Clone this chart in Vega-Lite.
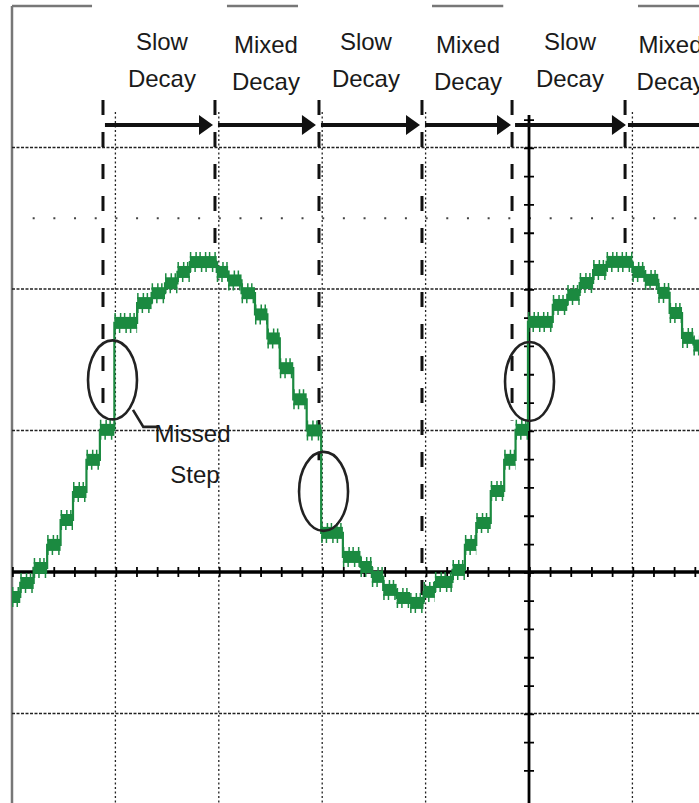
{
  "$schema": "https://vega.github.io/schema/vega-lite/v6.json",
  "width": 699,
  "height": 803,
  "autosize": "none",
  "padding": 0,
  "background": "white",
  "config": {"view": {"stroke": null}},
  "datasets": {
    "border": [
      {"x": 0, "x2": 77.4, "y": 400},
      {"x": 207.9, "x2": 276.6, "y": 400},
      {"x": 406.2, "x2": 475.1, "y": 400},
      {"x": 605.4, "x2": 680, "y": 400}
    ],
    "leftborder": [{"x": 0, "y": 400, "y2": -170}],
    "vgrid": [
      {"x": 100, "y": 325, "y2": -170},
      {"x": 200, "y": 325, "y2": -170},
      {"x": 300, "y": 325, "y2": -170},
      {"x": 400, "y": 325, "y2": -170},
      {"x": 600, "y": 325, "y2": -170}
    ],
    "hgrid": [
      {"y": 300, "x": 0, "x2": 680},
      {"y": 200, "x": 0, "x2": 680},
      {"y": 100, "x": 0, "x2": 680},
      {"y": -100, "x": 0, "x2": 680}
    ],
    "sparse": [{"y": 250, "x": 20, "x2": 680}],
    "haxis": [{"x": 0, "x2": 680, "y": 0}],
    "vaxis": [{"x": 500, "y": 323, "y2": -170}],
    "vticks": [{"x": 500, "y": 320, "y2": -160}],
    "dashes": [
      {"x": 88, "y": 333.6, "y2": 118},
      {"x": 196.3, "y": 333.6, "y2": 219},
      {"x": 296.9, "y": 333.6, "y2": 79},
      {"x": 396.5, "y": 333.6, "y2": -20},
      {"x": 483.6, "y": 333.6, "y2": 107},
      {"x": 592.9, "y": 333.6, "y2": 219}
    ],
    "steps": [
      {"x": 0, "x2": 8, "y": -17.7},
      {"x": 8, "x2": 21, "y": -7.8},
      {"x": 21, "x2": 34, "y": 2.8},
      {"x": 34, "x2": 47, "y": 19.1},
      {"x": 47, "x2": 59, "y": 36.7},
      {"x": 59, "x2": 72, "y": 56.5},
      {"x": 72, "x2": 85, "y": 79.2},
      {"x": 85, "x2": 99, "y": 100.4},
      {"x": 99, "x2": 121, "y": 176},
      {"x": 121, "x2": 135, "y": 190},
      {"x": 135, "x2": 148, "y": 197},
      {"x": 148, "x2": 160, "y": 204},
      {"x": 160, "x2": 172, "y": 212},
      {"x": 172, "x2": 198, "y": 219},
      {"x": 198, "x2": 209, "y": 212},
      {"x": 209, "x2": 222, "y": 206},
      {"x": 222, "x2": 235, "y": 197},
      {"x": 235, "x2": 247, "y": 182},
      {"x": 247, "x2": 259, "y": 165},
      {"x": 259, "x2": 272, "y": 144},
      {"x": 272, "x2": 285, "y": 122},
      {"x": 285, "x2": 299, "y": 100},
      {"x": 299, "x2": 320, "y": 27.6},
      {"x": 320, "x2": 337, "y": 10.6},
      {"x": 337, "x2": 348, "y": 3.5},
      {"x": 348, "x2": 359, "y": -3.5},
      {"x": 359, "x2": 372, "y": -12.7},
      {"x": 372, "x2": 385, "y": -18.4},
      {"x": 385, "x2": 398, "y": -21.9},
      {"x": 398, "x2": 409, "y": -14.1},
      {"x": 409, "x2": 426, "y": -7.1},
      {"x": 426, "x2": 438, "y": 1.4},
      {"x": 438, "x2": 449, "y": 19.1},
      {"x": 449, "x2": 463, "y": 34.6},
      {"x": 463, "x2": 476, "y": 57.2},
      {"x": 476, "x2": 487, "y": 79.2},
      {"x": 487, "x2": 499, "y": 100.4},
      {"x": 499, "x2": 523, "y": 176.7},
      {"x": 523, "x2": 537, "y": 188.7},
      {"x": 537, "x2": 549, "y": 195.8},
      {"x": 549, "x2": 562, "y": 204.2},
      {"x": 562, "x2": 575, "y": 213.4},
      {"x": 575, "x2": 600, "y": 219.1},
      {"x": 600, "x2": 612, "y": 212},
      {"x": 612, "x2": 625, "y": 206.4},
      {"x": 625, "x2": 636, "y": 197.2},
      {"x": 636, "x2": 648, "y": 183},
      {"x": 648, "x2": 659, "y": 165.4},
      {"x": 659, "x2": 672, "y": 160}
    ],
    "circles": [
      {"x": 97.2, "y": 135.7},
      {"x": 301.3, "y": 56.9},
      {"x": 500.5, "y": 134.6}
    ],
    "callout": [
      {"x": 117, "y": 114.5, "o": 1},
      {"x": 127, "y": 102.5, "o": 2},
      {"x": 141.2, "y": 102.5, "o": 3}
    ],
    "shafts": [
      {"x": 89.9, "x2": 188, "y": 315.9},
      {"x": 199.2, "x2": 288, "y": 315.9},
      {"x": 298.8, "x2": 388, "y": 315.9},
      {"x": 399.4, "x2": 476, "y": 315.9},
      {"x": 486.5, "x2": 587, "y": 315.9},
      {"x": 595.7, "x2": 680, "y": 315.9}
    ],
    "heads": [
      {"x": 187.6, "y": 315.9},
      {"x": 287.2, "y": 315.9},
      {"x": 387.8, "y": 315.9},
      {"x": 475.8, "y": 315.9},
      {"x": 587.0, "y": 315.9}
    ],
    "labels": [
      {"t": "Slow", "x": 145, "y": 368.9},
      {"t": "Decay", "x": 145, "y": 342.8},
      {"t": "Mixed", "x": 245.6, "y": 366.8},
      {"t": "Decay", "x": 245.6, "y": 340.6},
      {"t": "Slow", "x": 342.3, "y": 368.9},
      {"t": "Decay", "x": 342.3, "y": 342.8},
      {"t": "Mixed", "x": 441, "y": 366.8},
      {"t": "Decay", "x": 441, "y": 340.6},
      {"t": "Slow", "x": 539.6, "y": 368.9},
      {"t": "Decay", "x": 539.6, "y": 342.8},
      {"t": "Mixed", "x": 636.9, "y": 366.8},
      {"t": "Decay", "x": 636.9, "y": 340.6}
    ],
    "missed": [
      {"t": "Missed", "x": 174.6, "y": 91.9},
      {"t": "Step", "x": 177, "y": 62.9}
    ]
  },
  "layer": [
    {
      "data": {"name": "border"},
      "mark": {"type": "rule", "color": "#777777", "strokeWidth": 2.5},
      "encoding": {
        "x": {"field": "x", "type": "quantitative", "scale": {"domain": [-11.6, 664.4], "nice": false, "zero": false}, "axis": null},
        "x2": {"field": "x2"},
        "y": {"field": "y", "type": "quantitative", "scale": {"domain": [-163.3, 404.2], "nice": false, "zero": false}, "axis": null}
      }
    },
    {
      "data": {"name": "leftborder"},
      "mark": {"type": "rule", "color": "#777777", "strokeWidth": 2.5},
      "encoding": {
        "x": {"field": "x", "type": "quantitative", "scale": {"domain": [-11.6, 664.4], "nice": false, "zero": false}, "axis": null},
        "y": {"field": "y", "type": "quantitative", "scale": {"domain": [-163.3, 404.2], "nice": false, "zero": false}, "axis": null},
        "y2": {"field": "y2"}
      }
    },
    {
      "data": {"name": "vgrid"},
      "mark": {"type": "rule", "color": "#222222", "strokeWidth": 1.3, "strokeDash": [2, 2.5]},
      "encoding": {
        "x": {"field": "x", "type": "quantitative", "scale": {"domain": [-11.6, 664.4], "nice": false, "zero": false}, "axis": null},
        "y": {"field": "y", "type": "quantitative", "scale": {"domain": [-163.3, 404.2], "nice": false, "zero": false}, "axis": null},
        "y2": {"field": "y2"}
      }
    },
    {
      "data": {"name": "hgrid"},
      "mark": {"type": "rule", "color": "#222222", "strokeWidth": 1.6, "strokeDash": [3, 1.5]},
      "encoding": {
        "x": {"field": "x", "type": "quantitative", "scale": {"domain": [-11.6, 664.4], "nice": false, "zero": false}, "axis": null},
        "x2": {"field": "x2"},
        "y": {"field": "y", "type": "quantitative", "scale": {"domain": [-163.3, 404.2], "nice": false, "zero": false}, "axis": null}
      }
    },
    {
      "data": {"name": "sparse"},
      "mark": {"type": "rule", "color": "#444444", "strokeWidth": 2, "strokeDash": [2, 18.68]},
      "encoding": {
        "x": {"field": "x", "type": "quantitative", "scale": {"domain": [-11.6, 664.4], "nice": false, "zero": false}, "axis": null},
        "x2": {"field": "x2"},
        "y": {"field": "y", "type": "quantitative", "scale": {"domain": [-163.3, 404.2], "nice": false, "zero": false}, "axis": null}
      }
    },
    {
      "data": {"name": "dashes"},
      "mark": {"type": "rule", "color": "#111111", "strokeWidth": 3, "strokeDash": [15, 17]},
      "encoding": {
        "x": {"field": "x", "type": "quantitative", "scale": {"domain": [-11.6, 664.4], "nice": false, "zero": false}, "axis": null},
        "y": {"field": "y", "type": "quantitative", "scale": {"domain": [-163.3, 404.2], "nice": false, "zero": false}, "axis": null},
        "y2": {"field": "y2"}
      }
    },
    {
      "data": {"name": "haxis"},
      "mark": {"type": "rule", "color": "#000000", "strokeWidth": 3.5},
      "encoding": {
        "x": {"field": "x", "type": "quantitative", "scale": {"domain": [-11.6, 664.4], "nice": false, "zero": false}, "axis": null},
        "x2": {"field": "x2"},
        "y": {"field": "y", "type": "quantitative", "scale": {"domain": [-163.3, 404.2], "nice": false, "zero": false}, "axis": null}
      }
    },
    {
      "data": {"name": "haxis"},
      "mark": {"type": "rule", "color": "#000000", "strokeWidth": 10, "strokeDash": [1.8, 18.88]},
      "encoding": {
        "x": {"field": "x", "type": "quantitative", "scale": {"domain": [-11.6, 664.4], "nice": false, "zero": false}, "axis": null},
        "x2": {"field": "x2"},
        "y": {"field": "y", "type": "quantitative", "scale": {"domain": [-163.3, 404.2], "nice": false, "zero": false}, "axis": null}
      }
    },
    {
      "data": {"name": "vaxis"},
      "mark": {"type": "rule", "color": "#000000", "strokeWidth": 2.8},
      "encoding": {
        "x": {"field": "x", "type": "quantitative", "scale": {"domain": [-11.6, 664.4], "nice": false, "zero": false}, "axis": null},
        "y": {"field": "y", "type": "quantitative", "scale": {"domain": [-163.3, 404.2], "nice": false, "zero": false}, "axis": null},
        "y2": {"field": "y2"}
      }
    },
    {
      "data": {"name": "vticks"},
      "mark": {"type": "rule", "color": "#000000", "strokeWidth": 10, "strokeDash": [1.8, 26.5]},
      "encoding": {
        "x": {"field": "x", "type": "quantitative", "scale": {"domain": [-11.6, 664.4], "nice": false, "zero": false}, "axis": null},
        "y": {"field": "y", "type": "quantitative", "scale": {"domain": [-163.3, 404.2], "nice": false, "zero": false}, "axis": null},
        "y2": {"field": "y2"}
      }
    },
    {
      "data": {"name": "steps"},
      "mark": {"type": "line", "color": "#1b8a40", "strokeWidth": 2.2, "interpolate": "step-after"},
      "encoding": {
        "x": {"field": "x", "type": "quantitative", "scale": {"domain": [-11.6, 664.4], "nice": false, "zero": false}, "axis": null},
        "y": {"field": "y", "type": "quantitative", "scale": {"domain": [-163.3, 404.2], "nice": false, "zero": false}, "axis": null}
      }
    },
    {
      "data": {"name": "steps"},
      "mark": {"type": "rule", "color": "#1b8a40", "strokeWidth": 12, "strokeCap": "butt"},
      "encoding": {
        "x": {"field": "x", "type": "quantitative", "scale": {"domain": [-11.6, 664.4], "nice": false, "zero": false}, "axis": null},
        "x2": {"field": "x2"},
        "y": {"field": "y", "type": "quantitative", "scale": {"domain": [-163.3, 404.2], "nice": false, "zero": false}, "axis": null}
      }
    },
    {
      "data": {"name": "steps"},
      "mark": {"type": "rule", "color": "#1b8a40", "strokeWidth": 6, "strokeDash": [1.5, 4, 1.5, 2.5], "yOffset": -7},
      "encoding": {
        "x": {"field": "x", "type": "quantitative", "scale": {"domain": [-11.6, 664.4], "nice": false, "zero": false}, "axis": null},
        "x2": {"field": "x2"},
        "y": {"field": "y", "type": "quantitative", "scale": {"domain": [-163.3, 404.2], "nice": false, "zero": false}, "axis": null}
      }
    },
    {
      "data": {"name": "steps"},
      "mark": {"type": "rule", "color": "#1b8a40", "strokeWidth": 6, "strokeDash": [1.5, 3, 1.5, 5], "yOffset": 7},
      "encoding": {
        "x": {"field": "x", "type": "quantitative", "scale": {"domain": [-11.6, 664.4], "nice": false, "zero": false}, "axis": null},
        "x2": {"field": "x2"},
        "y": {"field": "y", "type": "quantitative", "scale": {"domain": [-163.3, 404.2], "nice": false, "zero": false}, "axis": null}
      }
    },
    {
      "data": {"name": "circles"},
      "mark": {"type": "point", "shape": "M -0.62 0 A 0.62 1 0 1 1 0.62 0 A 0.62 1 0 1 1 -0.62 0 Z", "size": 6241, "filled": false, "stroke": "#222222", "strokeWidth": 2.6, "opacity": 1},
      "encoding": {
        "x": {"field": "x", "type": "quantitative", "scale": {"domain": [-11.6, 664.4], "nice": false, "zero": false}, "axis": null},
        "y": {"field": "y", "type": "quantitative", "scale": {"domain": [-163.3, 404.2], "nice": false, "zero": false}, "axis": null}
      }
    },
    {
      "data": {"name": "callout"},
      "mark": {"type": "line", "color": "#222222", "strokeWidth": 2.6},
      "encoding": {
        "x": {"field": "x", "type": "quantitative", "scale": {"domain": [-11.6, 664.4], "nice": false, "zero": false}, "axis": null},
        "y": {"field": "y", "type": "quantitative", "scale": {"domain": [-163.3, 404.2], "nice": false, "zero": false}, "axis": null},
        "order": {"field": "o"}
      }
    },
    {
      "data": {"name": "shafts"},
      "mark": {"type": "rule", "color": "#111111", "strokeWidth": 4},
      "encoding": {
        "x": {"field": "x", "type": "quantitative", "scale": {"domain": [-11.6, 664.4], "nice": false, "zero": false}, "axis": null},
        "x2": {"field": "x2"},
        "y": {"field": "y", "type": "quantitative", "scale": {"domain": [-163.3, 404.2], "nice": false, "zero": false}, "axis": null}
      }
    },
    {
      "data": {"name": "heads"},
      "mark": {"type": "point", "shape": "M -0.7 -1 L 0.7 0 L -0.7 1 Z", "size": 400, "filled": true, "color": "#111111", "opacity": 1},
      "encoding": {
        "x": {"field": "x", "type": "quantitative", "scale": {"domain": [-11.6, 664.4], "nice": false, "zero": false}, "axis": null},
        "y": {"field": "y", "type": "quantitative", "scale": {"domain": [-163.3, 404.2], "nice": false, "zero": false}, "axis": null}
      }
    },
    {
      "data": {"name": "labels"},
      "mark": {"type": "text", "font": "Liberation Sans", "fontSize": 24, "align": "center", "baseline": "alphabetic", "color": "#1a1a1a"},
      "encoding": {
        "x": {"field": "x", "type": "quantitative", "scale": {"domain": [-11.6, 664.4], "nice": false, "zero": false}, "axis": null},
        "y": {"field": "y", "type": "quantitative", "scale": {"domain": [-163.3, 404.2], "nice": false, "zero": false}, "axis": null},
        "text": {"field": "t"}
      }
    },
    {
      "data": {"name": "missed"},
      "mark": {"type": "text", "font": "Liberation Sans", "fontSize": 24, "align": "center", "baseline": "alphabetic", "color": "#1a1a1a"},
      "encoding": {
        "x": {"field": "x", "type": "quantitative", "scale": {"domain": [-11.6, 664.4], "nice": false, "zero": false}, "axis": null},
        "y": {"field": "y", "type": "quantitative", "scale": {"domain": [-163.3, 404.2], "nice": false, "zero": false}, "axis": null},
        "text": {"field": "t"}
      }
    }
  ]
}
